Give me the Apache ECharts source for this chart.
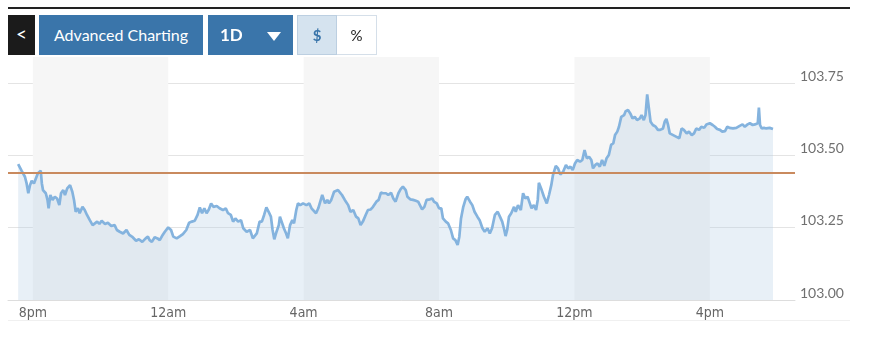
<!DOCTYPE html>
<html>
<head>
<meta charset="utf-8">
<script src="https://cdn.jsdelivr.net/npm/echarts@6/dist/echarts.min.js"></script>
<style>
html,body{margin:0;padding:0;background:#fff;}
#wrap{position:relative;width:870px;height:351px;overflow:hidden;font-family:Lato,"Open Sans",sans-serif;}
#chart{position:absolute;left:0;top:0;width:870px;height:351px;}
.topline{position:absolute;left:8px;top:7px;width:842px;height:2px;background:#222;}
.botline{position:absolute;left:8px;top:320px;width:842px;height:1px;background:#f0f0f0;}
.btn{position:absolute;top:15px;height:40px;line-height:40px;text-align:center;font-size:16px;color:#fff;box-sizing:border-box;}
#back{left:8px;width:27px;background:#1b1b1b;font-size:19px;line-height:38px;}
#adv{left:39px;width:164px;background:#3a75aa;}
#period{left:208px;width:85px;background:#3a75aa;font-weight:bold;text-align:left;font-size:17px;}
#period .l{position:absolute;left:12px;}
#period .a{position:absolute;left:59px;top:17px;width:0;height:0;border-left:7px solid transparent;border-right:7px solid transparent;border-top:9px solid #fff;}
#usd{left:297px;width:40px;background:#d5e3ef;border:1px solid #bccfe1;color:#3a75aa;font-weight:bold;font-size:15px;line-height:38px;}
#pct{left:337px;width:40px;background:#fff;border:1px solid #d5dfe9;border-left:none;color:#222;font-size:15px;line-height:38px;}
</style>
</head>
<body>
<div id="wrap">
  <div id="chart"></div>
  <div class="topline"></div>
  <div class="botline"></div>
  <div class="btn" id="back">&lt;</div>
  <div class="btn" id="adv">Advanced Charting</div>
  <div class="btn" id="period"><span class="l">1D</span><span class="a"></span></div>
  <div class="btn" id="usd">$</div>
  <div class="btn" id="pct">%</div>
</div>
<script>
// minutes after 8pm
var times = [-26,-20,-14,-11,-8,-5,-2,2,5,9,14,16,18,23,26,28,31,35,39,43,47,50,54,57,61,66,70,73,76,80,83,88,92,96,101,106,110,114,118,122,128,133,139,145,149,154,160,166,171,177,183,188,194,200,204,207,211,216,221,225,229,234,240,245,249,255,261,266,272,277,282,287,292,296,300,304,308,312,316,320,326,331,337,342,346,351,355,359,364,369,373,379,385,390,397,402,406,410,414,418,422,425,428,432,436,438,441,445,449,452,456,460,463,467,470,474,479,485,490,494,497,502,506,509,513,518,522,525,529,534,537,541,544,548,553,559,563,568,573,577,581,585,590,594,599,603,609,613,617,621,626,630,635,639,643,648,652,656,661,664,669,674,679,683,686,690,694,698,704,708,711,716,720,724,727,732,736,741,745,749,753,756,759,763,767,770,775,779,783,788,792,797,801,806,810,814,819,824,828,832,835,838,841,844,848,853,856,860,865,869,873,877,881,884,888,892,895,897,902,906,911,915,919,922,927,931,935,940,945,949,953,957,961,965,970,974,978,982,986,990,993,997,1001,1005,1009,1013,1017,1021,1025,1029,1032,1036,1039,1043,1048,1051,1055,1059,1063,1067,1071,1076,1079,1083,1086,1089,1092,1095,1099,1104,1108,1112,1117,1120,1123,1126,1129,1135,1141,1146,1150,1154,1159,1163,1168,1172,1176,1181,1185,1190,1194,1200,1205,1209,1213,1218,1222,1227,1231,1235,1241,1247,1253,1258,1262,1267,1271,1276,1280,1285,1287,1289,1292,1296,1300,1306,1312];
var prices = [103.470,103.447,103.426,103.403,103.369,103.397,103.412,103.403,103.409,103.438,103.447,103.403,103.380,103.369,103.346,103.317,103.363,103.346,103.357,103.351,103.328,103.369,103.380,103.363,103.386,103.397,103.374,103.346,103.305,103.317,103.300,103.322,103.311,103.294,103.276,103.259,103.265,103.271,103.263,103.274,103.263,103.267,103.256,103.259,103.242,103.236,103.230,103.242,103.225,103.217,103.205,103.210,103.201,103.213,103.219,103.207,103.201,103.217,103.213,103.207,103.221,103.236,103.251,103.242,103.219,103.213,103.221,103.228,103.242,103.267,103.271,103.274,103.294,103.320,103.300,103.317,103.300,103.313,103.334,103.322,103.325,103.317,103.311,103.317,103.300,103.294,103.271,103.282,103.271,103.276,103.248,103.236,103.242,103.213,103.230,103.271,103.271,103.294,103.320,103.305,103.288,103.242,103.210,103.236,103.259,103.288,103.271,103.248,103.230,103.213,103.259,103.276,103.265,103.311,103.334,103.328,103.334,103.328,103.334,103.317,103.322,103.300,103.317,103.311,103.363,103.334,103.346,103.334,103.346,103.374,103.369,103.380,103.383,103.363,103.346,103.328,103.305,103.311,103.288,103.282,103.259,103.271,103.294,103.311,103.313,103.322,103.340,103.346,103.371,103.369,103.369,103.363,103.371,103.351,103.340,103.369,103.383,103.392,103.380,103.357,103.348,103.346,103.343,103.340,103.334,103.313,103.322,103.346,103.348,103.351,103.340,103.334,103.317,103.317,103.282,103.271,103.265,103.242,103.213,103.207,103.190,103.219,103.282,103.322,103.348,103.357,103.340,103.328,103.305,103.288,103.276,103.248,103.236,103.248,103.230,103.248,103.294,103.305,103.288,103.271,103.248,103.221,103.244,103.288,103.300,103.322,103.305,103.328,103.311,103.369,103.351,103.357,103.334,103.317,103.328,103.311,103.346,103.405,103.380,103.357,103.334,103.363,103.397,103.432,103.464,103.455,103.434,103.443,103.467,103.455,103.461,103.449,103.472,103.484,103.478,103.484,103.518,103.490,103.495,103.484,103.455,103.467,103.472,103.461,103.484,103.464,103.490,103.501,103.536,103.542,103.570,103.582,103.599,103.633,103.639,103.653,103.657,103.645,103.628,103.633,103.622,103.628,103.639,103.622,103.639,103.711,103.663,103.616,103.605,103.599,103.588,103.588,103.593,103.616,103.626,103.605,103.576,103.570,103.564,103.559,103.593,103.588,103.576,103.582,103.570,103.576,103.593,103.588,103.599,103.595,103.607,103.611,103.605,103.599,103.591,103.588,103.582,103.584,103.599,103.595,103.593,103.595,103.602,103.607,103.599,103.607,103.611,103.605,103.607,103.611,103.665,103.605,103.593,103.595,103.593,103.595,103.591];
var tickValues = [0,240,480,720,960,1200];
var tickLabels = ['8pm','12am','4am','8am','12pm','4pm'];
var refPrice = 103.44;

var data = times.map(function(t,i){return [t, prices[i]];});
var bands = [];
for (var i = 0; i + 1 < tickValues.length; i += 2) {
  bands.push([{xAxis: tickValues[i]}, {xAxis: tickValues[i+1]}]);
}

var chart = echarts.init(document.getElementById('chart'), null, {renderer:'canvas'});
chart.setOption({
  animation: false,
  grid: {left: 8, right: 75, top: 57, bottom: 51, containLabel: false},
  xAxis: {
    type: 'value', min: -44, max: 1351,
    axisLine: {show: true, lineStyle: {color: '#dddddd', width: 1}},
    axisTick: {show: false},
    splitLine: {show: false},
    axisLabel: {
      customValues: tickValues,
      formatter: function(v){ var k = tickValues.indexOf(v); return k >= 0 ? tickLabels[k] : ''; },
      color: '#666', fontSize: 14, margin: 6,
      fontFamily: '"Liberation Sans Narrow","DejaVu Sans Condensed",sans-serif'
    }
  },
  yAxis: {
    type: 'value', position: 'right', min: 103, max: 103.84, interval: 0.25,
    axisLine: {show: false}, axisTick: {show: false},
    splitLine: {show: true, showMaxLine: false, lineStyle: {color: '#e4e4e4', width: 1}},
    axisLabel: {
      showMaxLabel: false,
      formatter: function(v){ return v.toFixed(2); },
      color: '#707070', fontSize: 14, margin: 5, verticalAlign: 'bottom',
      fontFamily: 'Lato, sans-serif'
    }
  },
  series: [
    {
      type: 'line', data: [], z: 1, silent: true,
      markArea: {silent: true, itemStyle: {color: '#f6f6f6'}, data: bands}
    },
    {
      type: 'line', data: data, z: 3, showSymbol: false, smooth: false,
      lineStyle: {color: '#84b3de', width: 2.7},
      areaStyle: {color: 'rgba(178,205,228,0.42)'},
      markLine: {
        silent: true, symbol: ['none','none'], label: {show: false},
        lineStyle: {color: '#c98a5e', width: 2, type: 'solid'},
        data: [{yAxis: refPrice}]
      }
    }
  ]
});
</script>
</body>
</html>
